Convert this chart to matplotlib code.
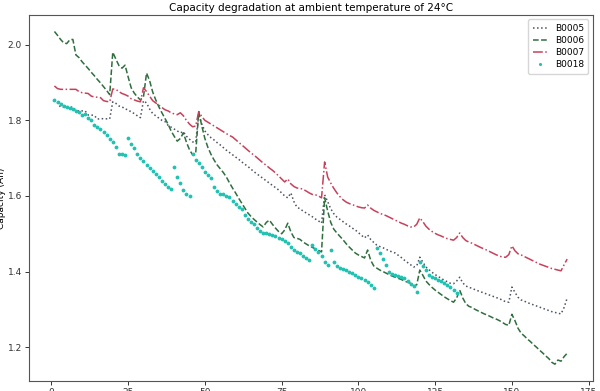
import numpy as np
import matplotlib
matplotlib.use('Agg')
import matplotlib.pyplot as plt

# capacity (Ah) per discharge cycle
b0005 = [1.856, 1.846, 1.835, 1.835, 1.835, 1.835, 1.835, 1.826, 1.825, 1.825,
         1.825, 1.814, 1.814, 1.813, 1.803, 1.805, 1.804, 1.804, 1.804, 1.849,
         1.845, 1.838, 1.836, 1.830, 1.828, 1.822, 1.818, 1.812, 1.807, 1.852,
         1.846, 1.830, 1.818, 1.812, 1.806, 1.800, 1.797, 1.787, 1.782, 1.777,
         1.772, 1.767, 1.770, 1.758, 1.750, 1.743, 1.742, 1.815, 1.790, 1.772,
         1.762, 1.754, 1.748, 1.741, 1.735, 1.728, 1.721, 1.715, 1.709, 1.703,
         1.697, 1.690, 1.684, 1.678, 1.671, 1.664, 1.658, 1.652, 1.646, 1.640,
         1.634, 1.628, 1.622, 1.616, 1.608, 1.600, 1.595, 1.608, 1.585, 1.570,
         1.566, 1.560, 1.555, 1.550, 1.545, 1.539, 1.534, 1.528, 1.603, 1.585,
         1.566, 1.553, 1.544, 1.538, 1.532, 1.526, 1.521, 1.515, 1.510, 1.503,
         1.496, 1.489, 1.497, 1.485, 1.477, 1.470, 1.466, 1.463, 1.459, 1.455,
         1.452, 1.449, 1.443, 1.437, 1.430, 1.424, 1.418, 1.412, 1.415, 1.438,
         1.425, 1.412, 1.405, 1.398, 1.392, 1.387, 1.382, 1.377, 1.373, 1.369,
         1.368, 1.375, 1.385, 1.370, 1.362, 1.358, 1.356, 1.352, 1.349, 1.346,
         1.343, 1.340, 1.337, 1.334, 1.331, 1.328, 1.324, 1.320, 1.319, 1.359,
         1.345, 1.332, 1.325, 1.322, 1.318, 1.315, 1.312, 1.309, 1.306, 1.303,
         1.300, 1.297, 1.294, 1.292, 1.290, 1.288, 1.305, 1.330]

b0006 = [2.035, 2.025, 2.014, 2.005, 2.003, 2.013, 2.014, 1.973, 1.966, 1.955,
         1.946, 1.937, 1.927, 1.918, 1.908, 1.899, 1.889, 1.879, 1.868, 1.980,
         1.962, 1.945, 1.938, 1.946, 1.915, 1.886, 1.872, 1.862, 1.854, 1.862,
         1.925, 1.905, 1.875, 1.854, 1.836, 1.820, 1.805, 1.790, 1.772, 1.758,
         1.745, 1.752, 1.767, 1.742, 1.722, 1.709, 1.712, 1.823, 1.785, 1.752,
         1.728, 1.710, 1.695, 1.682, 1.672, 1.662, 1.650, 1.635, 1.621, 1.608,
         1.594, 1.581, 1.568, 1.555, 1.546, 1.538, 1.531, 1.524, 1.518, 1.530,
         1.536, 1.525, 1.515, 1.506, 1.500, 1.510, 1.528, 1.505, 1.490, 1.488,
         1.485, 1.478, 1.473, 1.468, 1.464, 1.460, 1.456, 1.452, 1.595, 1.560,
         1.530, 1.512, 1.502, 1.493, 1.484, 1.474, 1.465, 1.457, 1.449, 1.444,
         1.440, 1.436, 1.457, 1.430, 1.415, 1.409, 1.404, 1.400, 1.396, 1.392,
         1.388, 1.385, 1.382, 1.379, 1.375, 1.372, 1.369, 1.362, 1.365, 1.404,
         1.390, 1.375, 1.366, 1.358, 1.351, 1.345, 1.339, 1.333, 1.328, 1.323,
         1.319, 1.330, 1.351, 1.330, 1.315, 1.308, 1.305, 1.300, 1.296, 1.292,
         1.288, 1.285, 1.281, 1.277, 1.274, 1.270, 1.265, 1.260, 1.258, 1.287,
         1.270, 1.250, 1.237, 1.230, 1.222, 1.215, 1.207, 1.200, 1.192, 1.185,
         1.177, 1.170, 1.160, 1.155, 1.166, 1.163, 1.175, 1.184]

b0007 = [1.891, 1.884, 1.882, 1.882, 1.882, 1.882, 1.882, 1.882, 1.876, 1.873,
         1.872, 1.871, 1.864, 1.862, 1.861, 1.860, 1.852, 1.850, 1.849, 1.883,
         1.882, 1.876, 1.871, 1.868, 1.864, 1.857, 1.854, 1.851, 1.849, 1.886,
         1.876, 1.864, 1.852, 1.846, 1.840, 1.834, 1.828, 1.825, 1.820, 1.817,
         1.815, 1.820, 1.812, 1.800, 1.790, 1.783, 1.785, 1.823, 1.810, 1.800,
         1.795, 1.790, 1.785, 1.780, 1.775, 1.770, 1.765, 1.760, 1.756, 1.749,
         1.742, 1.735, 1.728, 1.721, 1.714, 1.708, 1.701, 1.694, 1.687, 1.681,
         1.674, 1.668, 1.661, 1.653, 1.645, 1.637, 1.645, 1.632, 1.625, 1.621,
         1.620, 1.618, 1.613, 1.608, 1.604, 1.603, 1.600, 1.595, 1.690, 1.650,
         1.634, 1.620, 1.608, 1.598, 1.590, 1.584, 1.580, 1.577, 1.574, 1.571,
         1.569, 1.568, 1.576, 1.568, 1.562, 1.558, 1.554, 1.551, 1.548, 1.544,
         1.540, 1.536, 1.532, 1.528, 1.525, 1.521, 1.518, 1.518, 1.525, 1.542,
         1.532, 1.520, 1.512, 1.506, 1.501, 1.497, 1.494, 1.490, 1.487, 1.485,
         1.483, 1.490, 1.502, 1.490, 1.482, 1.478, 1.475, 1.471, 1.467, 1.463,
         1.460, 1.456, 1.452, 1.448, 1.444, 1.441, 1.438, 1.438, 1.445, 1.468,
         1.455, 1.447, 1.444, 1.440, 1.436, 1.432, 1.428, 1.424, 1.420, 1.417,
         1.414, 1.411, 1.408, 1.406, 1.404, 1.402, 1.418, 1.433]

b0018 = [1.855, 1.848, 1.843, 1.838, 1.836, 1.833, 1.830, 1.826, 1.823, 1.815,
         1.818, 1.806, 1.800, 1.788, 1.782, 1.778, 1.770, 1.760, 1.750, 1.742,
         1.730, 1.712, 1.710, 1.708, 1.754, 1.738, 1.726, 1.712, 1.700, 1.692,
         1.682, 1.674, 1.666, 1.657, 1.650, 1.640, 1.632, 1.624, 1.618, 1.677,
         1.650, 1.634, 1.616, 1.606, 1.600, 1.712, 1.695, 1.686, 1.677, 1.664,
         1.655, 1.648, 1.624, 1.612, 1.606, 1.604, 1.600, 1.597, 1.586, 1.580,
         1.572, 1.566, 1.550, 1.540, 1.531, 1.525, 1.515, 1.506, 1.503, 1.502,
         1.500, 1.498, 1.495, 1.490, 1.485, 1.480, 1.475, 1.465, 1.458, 1.452,
         1.449, 1.442, 1.436, 1.430, 1.470, 1.460, 1.452, 1.440, 1.425, 1.417,
         1.457, 1.425, 1.415, 1.410, 1.408, 1.404, 1.400, 1.396, 1.390, 1.386,
         1.382, 1.378, 1.372, 1.365, 1.356, 1.462, 1.450, 1.432, 1.418, 1.400,
         1.393, 1.391, 1.389, 1.385, 1.383, 1.376, 1.368, 1.362, 1.346, 1.425,
         1.415, 1.405, 1.391, 1.386, 1.382, 1.378, 1.374, 1.370, 1.365, 1.359,
         1.350, 1.343]

names = ['B0005', 'B0006', 'B0007', 'B0018']

fig = plt.figure(figsize=(6, 3.91), dpi=100)
ax = fig.add_axes([0.048, 0.026, 0.94, 0.936])

ax.plot(np.arange(1, len(b0005)+1), b0005, ':', color='#4c5264', lw=1.1, label=names[0])
ax.plot(np.arange(1, len(b0006)+1), b0006, '--', color='#2f6e3e', lw=1.1, label=names[1])
ax.plot(np.arange(1, len(b0007)+1), b0007, '-.', color='#c9405a', lw=1.1, label=names[2])
ax.plot(np.arange(1, len(b0018)+1), b0018, '.', color='#22c2b2', ms=3.5, label=names[3])

ax.set_title('Capacity degradation at ambient temperature of 24\u00b0C', fontsize=7.5, pad=3)
ax.set_ylabel('Capacity (Ah)', fontsize=6.5)
ax.yaxis.set_label_coords(-0.041, 0.5)
ax.set_xticks([0, 25, 50, 75, 100, 125, 150, 175])
ax.set_yticks([1.2, 1.4, 1.6, 1.8, 2.0])
ax.tick_params(labelsize=6.5, length=3, width=0.7, colors='#333333', pad=2)
for s in ax.spines.values():
    s.set_color('#555555')
    s.set_linewidth(0.8)
ax.legend(loc='upper right', fontsize=6.5, handlelength=1.6, borderpad=0.5,
          labelspacing=0.35, markerscale=0.7)

fig.savefig('out.png', dpi=100)
